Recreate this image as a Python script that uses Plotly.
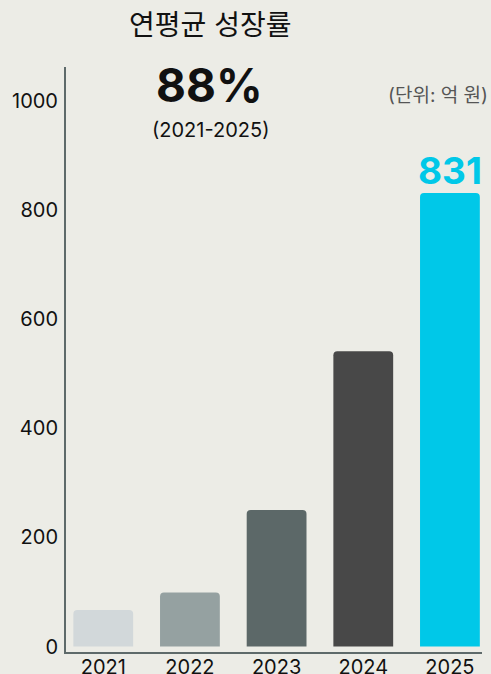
import plotly.graph_objects as go

years = ["2021", "2022", "2023", "2024", "2025"]
values = [67, 99, 250, 541, 831]
colors = ["#d2d8da", "#95a1a1", "#5c6868", "#484848", "#00c8e8"]
y_ticks = [0, 200, 400, 600, 800, 1000]

FONT = "Inter, 'Noto Sans CJK KR', sans-serif"
W, H = 491, 674
L, R, T, B = 66, 9, 67, 22

fig = go.Figure()
fig.add_trace(go.Bar(
    x=list(range(len(years))), y=values,
    marker=dict(color=colors, line=dict(width=0), cornerradius=4),
    width=0.69, showlegend=False, hoverinfo="skip",
))

fig.update_layout(
    width=W, height=H,
    margin=dict(l=L, r=R, t=T, b=B, autoexpand=False),
    paper_bgcolor="#ecece6", plot_bgcolor="#ecece6",
    font=dict(family=FONT, color="#111"),
    xaxis=dict(range=[-0.43, 4.37], tickvals=list(range(len(years))), ticktext=years,
               showgrid=False, zeroline=False, showline=True, linecolor="#5e6a6a",
               linewidth=2, ticks="", automargin=False, ticklabelstandoff=-4,
               tickfont=dict(size=20, color="#111")),
    yaxis=dict(range=[-10, 1062], tickvals=y_ticks, showgrid=False, zeroline=False,
               showline=True, linecolor="#5e6a6a", linewidth=2, ticks="",
               automargin=False, ticklabelstandoff=2,
               tickfont=dict(size=20, color="#111")),
)

fig.add_annotation(x=4, y=values[4], xref="x", yref="y", text="<b>831</b>",
                   showarrow=False, yanchor="bottom", yshift=-2,
                   font=dict(size=37, color="#00c8e8", family=FONT))


def add_px(text, x, y, size, color="#111", bold=False, xanchor="center"):
    pw, ph = W - L - R, H - T - B
    fig.add_annotation(x=(x - L) / pw, y=(H - B - y) / ph, xref="paper", yref="paper",
                       text=f"<b>{text}</b>" if bold else text, showarrow=False,
                       xanchor=xanchor, yanchor="middle",
                       font=dict(size=size, color=color, family=FONT))


add_px("연평균 성장률", 210, 25, 28)
add_px("88%", 209, 85, 46, bold=True)
add_px("(2021-2025)", 210, 130, 20)
add_px("(단위: 억 원)", 490, 95, 19, color="#555", xanchor="right")

fig.write_html("out.html", config={"displayModeBar": False},
               post_script="document.body.style.margin='0';document.body.style.overflow='hidden';")
